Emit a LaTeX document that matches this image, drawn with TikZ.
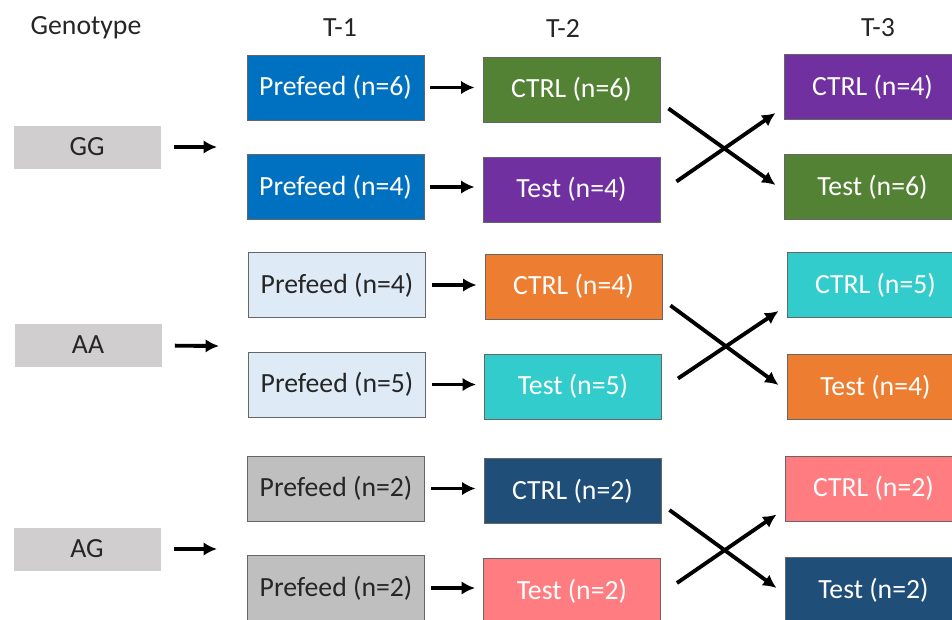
\documentclass[tikz,border=0pt]{standalone}
\usepackage{fontspec}
\setmainfont{Carlito}
\usetikzlibrary{arrows.meta, calc}
\definecolor{PreBlue}{HTML}{0070C0}
\definecolor{PreLight}{HTML}{DEEBF7}
\definecolor{PreGray}{HTML}{BFBFBF}
\definecolor{GenoGray}{HTML}{D0CECE}
\definecolor{MyGreen}{HTML}{548235}
\definecolor{MyPurple}{HTML}{7030A0}
\definecolor{MyOrange}{HTML}{ED7D31}
\definecolor{MyTeal}{HTML}{33CCCC}
\definecolor{MyNavy}{HTML}{1F4E79}
\definecolor{MyPink}{HTML}{FF7C80}
\definecolor{ink}{HTML}{262626}
\tikzset{
	box/.style={draw=black!60, line width=0.7pt, minimum width=132.75pt, minimum height=48.75pt, inner sep=0pt, text=white},
	darkbox/.style={box, text=ink},
	geno/.style={fill=GenoGray, minimum width=110.25pt, minimum height=32.25pt, inner sep=0pt, text=ink},
	arr/.style={-{Latex[length=10pt, width=10pt]}, line width=2.9pt}
}

\begin{document}
\begin{tikzpicture}[x=0.75pt, y=-0.75pt, every node/.style={font=\fontsize{20.8}{24}\selectfont}]
					\clip (0,0) rectangle (952,619);
					
					% column heads
					\node[text=ink] (hgeno) at (86, 28) {Genotype};
					\node[text=ink] (hone) at (340, 28) {T-1};
					\node[text=ink] (htwo) at (563, 28) {T-2};
					\node[text=ink] (hthree) at (878, 28) {T-3};
					
					% GG
					\node[geno] (gg) at (87, 147) {GG};
					\coordinate (ggIn) at (217, 147);
					\node[box, fill=PreBlue] (ggP1) at (335.5, 87.5) {Prefeed (n=6)};
					\node[box, fill=PreBlue] (ggP2) at (335.5, 187) {Prefeed (n=4)};
					\node[box, fill=MyGreen] (ggC2) at (571.5, 89.5) {CTRL (n=6)};
					\node[box, fill=MyPurple] (ggT2) at (571.5, 189.5) {Test (n=4)};
					\node[box, fill=MyPurple] (ggC3) at (872.5, 87) {CTRL (n=4)};
					\node[box, fill=MyGreen] (ggT3) at (872.5, 187) {Test (n=6)};
					
					\draw[arr, shorten <=9.75pt] (gg) -- (ggIn);
					\draw[arr, shorten <=4.5pt, shorten >=6pt] (ggP1) -- (ggP1 -| ggC2.west);
					\draw[arr, shorten <=4.5pt, shorten >=6pt] (ggP2) -- (ggP2 -| ggT2.west);
					\draw[arr] ($(ggC2.east)+(8,19)$) -- ($(ggT3.west)+(-8,-2)$);
					\draw[arr] ($(ggT2.east)+(16,-8)$) -- ($(ggC3.west)+(-8,26)$);
					
					% AA
					\node[geno] (aa) at (88, 345) {AA};
					\coordinate (aaIn) at (219, 346);
					\node[darkbox, fill=PreLight] (aaP1) at (337, 285) {Prefeed (n=4)};
					\node[darkbox, fill=PreLight] (aaP2) at (337, 384.5) {Prefeed (n=5)};
					\node[box, fill=MyOrange] (aaC2) at (573.5, 286.5) {CTRL (n=4)};
					\node[box, fill=MyTeal] (aaT2) at (573, 386.5) {Test (n=5)};
					\node[box, fill=MyTeal] (aaC3) at (875.5, 285) {CTRL (n=5)};
					\node[box, fill=MyOrange] (aaT3) at (875.5, 387) {Test (n=4)};
					
					\draw[arr, shorten <=9.75pt] (aa) -- (aaIn);
					\draw[arr, shorten <=4.5pt, shorten >=6pt] (aaP1) -- (aaP1 -| aaC2.west);
					\draw[arr, shorten <=4.5pt, shorten >=6pt] (aaP2) -- (aaP2 -| aaT2.west);
					\draw[arr] ($(aaC2.east)+(8,19)$) -- ($(aaT3.west)+(-8,-2)$);
					\draw[arr] ($(aaT2.east)+(16,-8)$) -- ($(aaC3.west)+(-8,26)$);
					
					% AG
					\node[geno] (ag) at (87, 549) {AG};
					\coordinate (agIn) at (217, 549);
					\node[darkbox, fill=PreGray] (agP1) at (336, 488.5) {Prefeed (n=2)};
					\node[darkbox, fill=PreGray] (agP2) at (336, 588) {Prefeed (n=2)};
					\node[box, fill=MyNavy] (agC2) at (572.5, 491) {CTRL (n=2)};
					\node[box, fill=MyPink] (agT2) at (572, 591) {Test (n=2)};
					\node[box, fill=MyPink] (agC3) at (873.5, 488.5) {CTRL (n=2)};
					\node[box, fill=MyNavy] (agT3) at (873.5, 590) {Test (n=2)};
					
					\draw[arr, shorten <=9.75pt] (ag) -- (agIn);
					\draw[arr, shorten <=4.5pt, shorten >=6pt] (agP1) -- (agP1 -| agC2.west);
					\draw[arr, shorten <=4.5pt, shorten >=6pt] (agP2) -- (agP2 -| agT2.west);
					\draw[arr] ($(agC2.east)+(8,19)$) -- ($(agT3.west)+(-8,-2)$);
					\draw[arr] ($(agT2.east)+(16,-8)$) -- ($(agC3.west)+(-8,26)$);
			\end{tikzpicture}
\end{document}
